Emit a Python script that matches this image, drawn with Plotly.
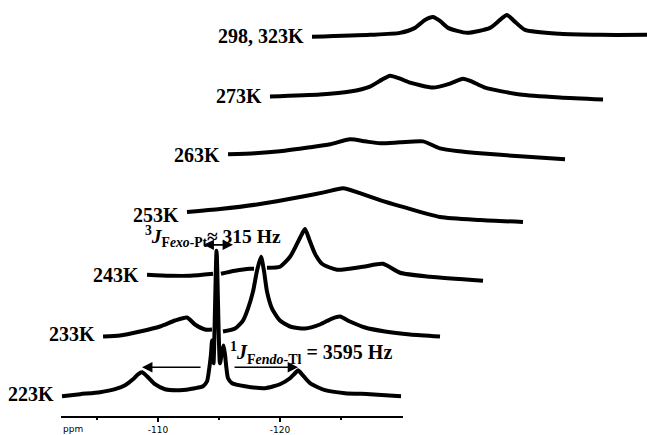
import plotly.graph_objects as go

# ---- data (chemical shift in ppm, intensity in a.u.) ----
temperatures = ["223K", "233K", "243K", "253K", "263K", "273K", "298, 323K"]

ppm_223 = [-102.13, -103.61, -105.25, -106.48, -107.30, -107.95, -108.36, -108.69, -109.10,
           -109.75, -110.57, -111.80, -113.03, -113.69, -114.02, -114.18, -114.34, -114.43,
           -114.55, -114.80, -115.08, -115.25, -115.37, -115.49, -115.61, -115.74, -116.07,
           -117.13, -118.77, -120.00, -120.82, -121.23, -121.48, -121.80, -122.46, -123.69,
           -125.33, -127.38, -129.92]
int_223 = [0, 2, 4, 7, 11, 17, 22, 24, 20,
           12, 7, 6, 8, 10, 15, 26, 42, 56,
           33, 146, 33, 45, 51, 42, 28, 18, 13,
           10, 8, 12, 18, 23, 26, 22, 13, 6,
           3, 2, 0]

ppm_233 = [-102.08, -103.47, -105.11, -106.75, -107.98, -108.96, -109.62, -110.44, -111.01,
           -111.46, -111.91, -112.90, -113.55, -113.96, -114.37, -114.70, -115.03, -115.27,
           -115.52, -115.93, -116.58, -117.40, -118.63, -119.86, -120.85, -121.50, -122.32,
           -123.55, -125.19, -127.24, -129.70]
int_233 = [0, 1, 5, 10, 16, 19, 12, 7, 7,
           None, 5, 8, 16, 28, 45, 66, 80, 66,
           45, 28, 16, 10, 8, 12, 18, 20, 15,
           9, 5, 2, 0]

ppm_243 = [-102.27, -104.15, -105.79, -107.68, -108.00, -108.33, -109.48, -110.71, -111.04,
           -111.57, -112.10, -113.17, -113.99, -114.56, -114.97, -115.22, -115.55, -116.04,
           -116.61, -117.84, -119.97, -121.61, -123.01, -125.46, -129.81]
int_243 = [2, 1, 1, 3, None, 3, 6, 8, 8,
           None, 9, 10, 20, 33, 43, 48, 38, 23,
           13, 7, 10, 13, 4, 0, -4]

ppm_253 = [-102.13, -104.84, -108.11, -111.39, -113.44, -114.92, -116.31, -117.95, -119.59,
           -122.87, -126.15, -129.67]
int_253 = [5, 8, 13, 20, 25, 29, 24, 17, 11, 0, -3, -5]

ppm_263 = [-102.08, -104.29, -106.34, -108.80, -110.44, -112.08, -113.31, -114.54, -116.17,
           -118.06, -119.45, -121.09, -122.73, -126.01, -129.70]
int_263 = [3, 4, 6, 10, 13, 18, 16, 14, 15, 16, 9, 6, 4, 1, -2]

ppm_273 = [-102.10, -106.20, -108.66, -110.30, -111.28, -111.94, -112.76, -113.58, -115.46,
           -116.86, -117.92, -118.66, -119.73, -122.60, -125.87, -129.40]
int_273 = [1, 3, 6, 11, 18, 22, 19, 15, 10, 14, 19, 16, 10, 3, 0, -2]

ppm_298 = [-102.13, -106.89, -109.34, -110.57, -111.39, -112.05, -112.62, -113.28, -114.84,
           -116.72, -117.54, -118.11, -118.69, -119.59, -122.46, -125.74, -129.59]
int_298 = [1, 3, 5, 10, 18, 21, 17, 10, 5, 10, 18, 23, 17, 8, 4, 3, 3]

axis_ticks = [-110, -120]
axis_tick_labels = ["-110", "-120"]
minor_ticks = [-105, -115, -125]

spectra_ppm = [ppm_223, ppm_233, ppm_243, ppm_253, ppm_263, ppm_273, ppm_298]
spectra_int = [int_223, int_233, int_243, int_253, int_263, int_273, int_298]

# ---- stacking (skewed stack plot) ----
STACK_DX = 3.4155   # ppm shift per spectrum
STACK_DY = 60       # intensity offset per spectrum

SERIF = "Liberation Serif"
fig = go.Figure()

for k, (lab, xs, ys) in enumerate(zip(temperatures, spectra_ppm, spectra_int)):
    X = [x - k * STACK_DX for x in xs]
    Y = [None if y is None else y + k * STACK_DY for y in ys]
    fig.add_trace(go.Scatter(x=X, y=Y, mode="lines", connectgaps=False,
                             line=dict(color="black", width=4, shape="spline",
                                       smoothing=0.6),
                             hoverinfo="skip", showlegend=False))
    fig.add_annotation(x=X[0], y=k * STACK_DY, xref="x", yref="y",
                       text=f"<b>{lab}</b>", showarrow=False,
                       xanchor="right", yanchor="middle", xshift=-6, yshift=2,
                       font=dict(family=SERIF, size=20, color="black"))

# dummy trace so the ppm axis is drawn
fig.add_trace(go.Scatter(x=[-110], y=[None], xaxis="x2", yaxis="y",
                         mode="markers", showlegend=False, hoverinfo="skip"))

# ---- coupling arrows for 223K ----
left_sat = max([(i, p) for p, i in zip(ppm_223, int_223) if p > -112])
right_sat = max([(i, p) for p, i in zip(ppm_223, int_223) if p < -118])
ARROW_Y = 29
arrow_style = dict(xref="x", yref="y", axref="x", ayref="y", text="", showarrow=True,
                   arrowhead=2, arrowsize=1.3, arrowwidth=1.6, arrowcolor="black",
                   standoff=0, startstandoff=0)
fig.add_annotation(x=left_sat[1], y=ARROW_Y, ax=-113.61, ay=ARROW_Y, **arrow_style)
fig.add_annotation(x=right_sat[1], y=ARROW_Y, ax=-116.15, ay=ARROW_Y, **arrow_style)
fig.add_annotation(x=-116.15, y=152, ax=-113.61, ay=152, arrowside="end+start", **arrow_style)

fig.add_annotation(x=-108.77, y=160, xref="x", yref="y", showarrow=False,
                   xanchor="left", yanchor="middle",
                   text="<b><sup>3</sup><i>J</i><sub>F<i>exo</i>-Pt</sub>≈ 315 Hz</b>",
                   font=dict(family=SERIF, size=19.5, color="black"))
fig.add_annotation(x=-115.75, y=43, xref="x", yref="y", showarrow=False,
                   xanchor="left", yanchor="middle",
                   text="<b><sup>1</sup><i>J</i><sub>F<i>endo</i>-Tl</sub> = 3595 Hz</b>",
                   font=dict(family=SERIF, size=20, color="black"))

fig.add_annotation(x=61 / 647, y=4 / 435, xref="paper", yref="paper", showarrow=False,
                   xanchor="left", yanchor="middle", text="ppm",
                   font=dict(family="DejaVu Sans", size=9, color="black"))

fig.update_layout(
    width=647, height=435,
    margin=dict(l=0, r=0, t=0, b=0),
    paper_bgcolor="white", plot_bgcolor="rgba(0,0,0,0)",
    xaxis=dict(domain=[0, 1], range=[-97.049, -150.082], visible=False),
    yaxis=dict(domain=[0, 1], range=[-37, 398], visible=False),
    xaxis2=dict(domain=[61 / 647, 403 / 647], range=[-102.05, -130.08],
                anchor="free", position=16 / 435,
                showline=True, linecolor="black", linewidth=2,
                showgrid=False, zeroline=False,
                ticks="outside", ticklen=4, tickwidth=1.5, tickcolor="black",
                tickvals=axis_ticks, ticktext=axis_tick_labels,
                tickfont=dict(family="DejaVu Sans", size=9, color="black"),
                minor=dict(tickvals=minor_ticks, ticks="outside", ticklen=2,
                           tickwidth=1.5, tickcolor="black")),
)

fig.write_html("out.html")
